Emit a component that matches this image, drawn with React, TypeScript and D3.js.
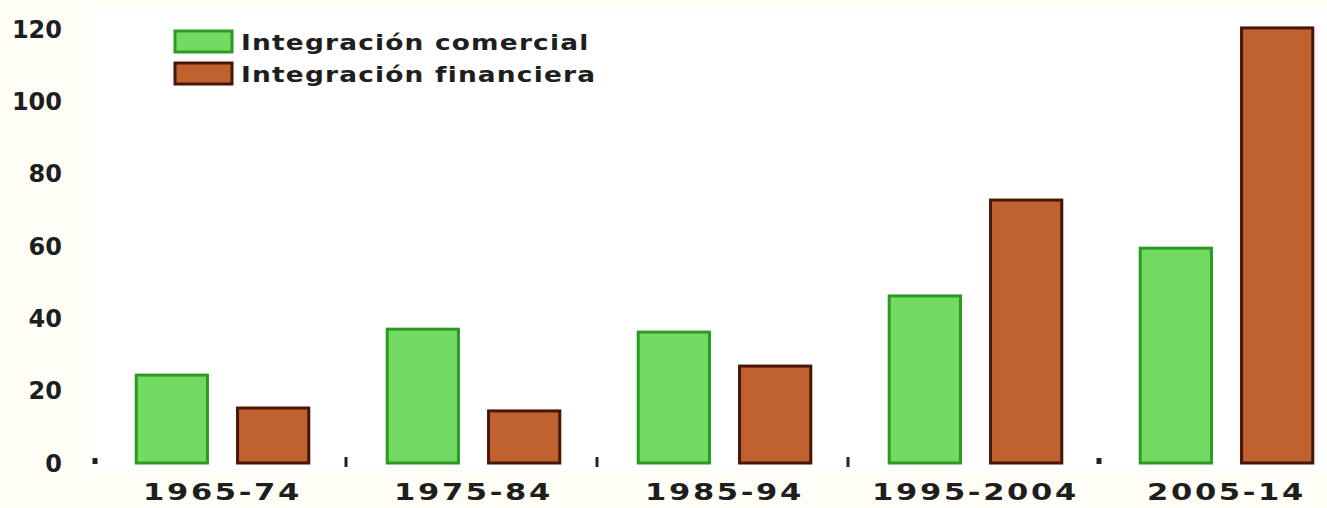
import React from "react";
import * as d3 from "d3";

const categories = ["1965-74", "1975-84", "1985-94", "1995-2004", "2005-14"];
const comercial = [24.3, 37.0, 36.2, 46.2, 59.4];
const financiera = [15.2, 14.4, 26.8, 72.7, 120.3];
const yTicks = [0, 20, 40, 60, 80, 100, 120];
const seriesNames = ["Integración comercial", "Integración financiera"];

const W = 1327;
const H = 508;
const FONT = "'DejaVu Sans', Verdana, sans-serif";
const fills = ["#74db62", "#c0622f"];
const strokes = ["#2c9a22", "#4a1406"];

export default function App() {
  const x = d3.scaleBand<string>().domain(categories).range([97, 1352]).paddingInner(0).paddingOuter(0);
  const y = d3.scaleLinear().domain([0, 120]).range([463, 29]);
  const inner = d3.scaleBand<number>().domain([0, 1]).range([0, x.bandwidth()]).paddingInner(0.297).paddingOuter(0.387);
  const series = [comercial, financiera];
  return (
    <svg width={W} height={H} style={{ position: "absolute", left: 0, top: 0, background: "#fefef7" }}>
      <rect x={90} y={10} width={W - 90} height={460} fill="#ffffff" />
      {yTicks.map((t) => (
        <text key={t} x={62} y={y(t)} dy="0.36em" textAnchor="end" fontFamily={FONT} fontWeight="bold" fontSize={24} fill="#1e1e1e">
          {t}
        </text>
      ))}
      {categories.map((c, i) => (
        <line key={"tk" + i} x1={x(c)! - 2} x2={x(c)! - 2} y1={i === 0 || i === 4 ? 458 : 457} y2={i === 0 || i === 4 ? 464 : 467} stroke="#222" strokeWidth={i === 0 || i === 4 ? 5 : 3} />
      ))}
      {series.map((vals, s) =>
        vals.map((v, i) => (
          <rect
            key={s + "-" + i}
            x={x(categories[i])! + inner(s)!}
            y={y(v)}
            width={inner.bandwidth()}
            height={y(0) - y(v)}
            fill={fills[s]}
            stroke={strokes[s]}
            strokeWidth={3}
          />
        ))
      )}
      {categories.map((c) => (
        <g key={c} transform={`translate(${x(c)! + x.bandwidth() / 2}, 492) scale(1.33, 1)`}>
          <text x={0} y={0} dy="0.36em" textAnchor="middle" fontFamily={FONT} fontWeight="bold" fontSize={23} letterSpacing={2} fill="#1e1e1e">
            {c}
          </text>
        </g>
      ))}
      {seriesNames.map((n, s) => (
        <g key={n} transform={`translate(175, ${31 + s * 32})`}>
          <rect x={0} y={0} width={57} height={21} fill={fills[s]} stroke={strokes[s]} strokeWidth={3} />
          <g transform="translate(66, 11) scale(1.2, 1)">
            <text x={0} y={0} dy="0.36em" fontFamily={FONT} fontWeight="bold" fontSize={22} letterSpacing={1} fill="#1e1e1e">
              {n}
            </text>
          </g>
        </g>
      ))}
    </svg>
  );
}
